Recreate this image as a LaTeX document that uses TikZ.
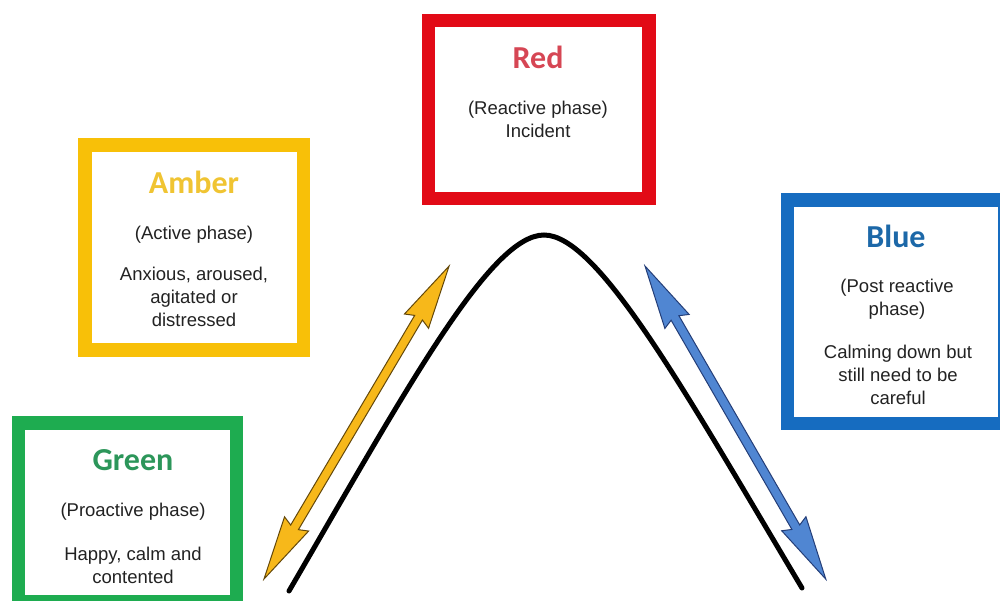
\documentclass[tikz,border=0pt]{standalone}
\usepackage{fontspec}
\setmainfont{Liberation Sans}
\newfontfamily\titlefont{Carlito}[BoldFont=* Bold]
\begin{document}
\definecolor{greenborder}{RGB}{30,172,80}
\definecolor{greentitle}{RGB}{44,150,90}
\definecolor{amberborder}{RGB}{248,192,8}
\definecolor{ambertitle}{RGB}{240,196,50}
\definecolor{redborder}{RGB}{226,10,22}
\definecolor{redtitle}{RGB}{214,70,84}
\definecolor{blueborder}{RGB}{22,108,192}
\definecolor{bluetitle}{RGB}{28,104,168}
\definecolor{bodytext}{RGB}{34,34,34}
\definecolor{amberfill}{RGB}{247,184,26}
\definecolor{amberedge}{RGB}{100,72,10}
\definecolor{bluefill}{RGB}{80,134,210}
\definecolor{blueedge}{RGB}{36,62,120}
\begin{tikzpicture}[x=1pt,y=-1pt,
  phasebox/.style={draw=#1, line width=13.5pt, rectangle, inner sep=0pt, outer sep=0pt, fill=white},
  phasetitle/.style={text=#1, font=\titlefont\bfseries\fontsize{32}{36}\selectfont, inner sep=0pt},
  bodyline/.style={text=bodytext, font=\fontsize{18.5}{23}\selectfont, align=center, inner sep=0pt},
  curve/.style={line width=5pt, black, line cap=round},
  pics/dblarrow/.style args={#1/#2/#3}{code={
    % two-headed block arrow laid along the x axis, length #1
    \path[fill=#2, draw=#3, line width=1pt, line join=miter]
      (0,0) -- (64,14) -- (60,4.5) -- (#1-60,4.5) -- (#1-64,14) -- (#1,0)
      -- (#1-64,-14) -- (#1-60,-4.5) -- (60,-4.5) -- (64,-14) -- cycle;
  }}]
\useasboundingbox (0,0) rectangle (1000,600);
\clip (0,0) rectangle (1000,600);
\fill[white] (0,0) rectangle (1000,600);

% the four phase boxes
\node[phasebox=greenborder, minimum width=218pt, minimum height=178.5pt] (greenbox) at (127.5,512.25) {};
\node[phasebox=amberborder, minimum width=218.5pt, minimum height=205pt] (amberbox) at (194.25,247.5) {};
\node[phasebox=redborder, minimum width=220.5pt, minimum height=178pt] (redbox) at (538.75,109.5) {};
\node[phasebox=blueborder, minimum width=217.5pt, minimum height=223.5pt] (bluebox) at (896.25,311.75) {};

% green: proactive phase
\node[phasetitle=greentitle] (greent) at (133,460) {Green};
\node[bodyline] (greenp) at (133,512) {(Proactive phase)};
\node[bodyline] (greend) at (133,565) {Happy, calm and\\contented};

% amber: active phase
\node[phasetitle=ambertitle] (ambert) at (194,182) {Amber};
\node[bodyline] (amberp) at (194,235) {(Active phase)};
\node[bodyline] (amberd) at (194,297) {Anxious, aroused,\\agitated or\\distressed};

% red: reactive phase
\node[phasetitle=redtitle] (redt) at (538,57) {Red};
\node[bodyline] (redd) at (538,119.5) {(Reactive phase)\\Incident};

% blue: post reactive phase
\node[phasetitle=bluetitle] (bluet) at (896,236) {Blue};
\node[bodyline] (bluep) at (897,299) {(Post reactive\\phase)};
\node[bodyline] (blued) at (898,375) {Calming down but\\still need to be\\careful};

% the escalation curve
\coordinate (cl) at (289,591);
\coordinate (peak) at (544,235);
\coordinate (cr) at (802,588);
\draw[curve] (cl) .. controls (406,390) and (490,235) .. (peak)
  .. controls (598,235) and (684,390) .. (cr);

% two-headed arrows beside the curve
\coordinate (ya) at (264,579);
\coordinate (ba) at (645,266);
\pic[rotate=59.4] at (ya) {dblarrow={363.6/amberfill/amberedge}};
\pic[rotate=-60] at (ba) {dblarrow={361.6/bluefill/blueedge}};
\end{tikzpicture}
\end{document}
